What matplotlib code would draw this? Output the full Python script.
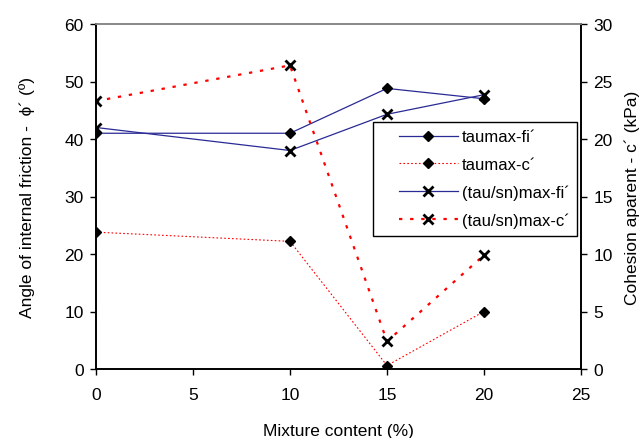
import matplotlib
matplotlib.use("Agg")
import matplotlib.pyplot as plt
from matplotlib.lines import Line2D
from matplotlib.legend_handler import HandlerLine2D

plt.rcParams["font.family"] = ["Liberation Sans", "DejaVu Sans"]

# data
mixture = [0, 10, 15, 20]
taumax_fi = [41.0, 41.0, 48.8, 47.0]
taumax_c = [11.9, 11.1, 0.3, 5.0]
tausn_fi = [42.0, 38.0, 44.3, 47.7]
tausn_c = [23.3, 26.4, 2.4, 9.9]

labels = ["taumax-fi´", "taumax-c´", "(tau/sn)max-fi´", "(tau/sn)max-c´"]


class PaddedLine(HandlerLine2D):
    # leave some blank room left of the legend line, like the reference
    def create_artists(self, legend, orig_handle, xdescent, ydescent, width, height,
                       fontsize, trans):
        pad = 13
        return super().create_artists(legend, orig_handle, xdescent - pad, ydescent,
                                      width - pad, height, fontsize, trans)


fig = plt.figure(figsize=(6.43, 4.39), dpi=100)
ax = fig.add_axes([96 / 643, 1 - 370 / 439, (581 - 96) / 643, (370 - 25) / 439])
ax2 = ax.twinx()

blue = "#2a2a95"
red = "#ff0000"
fs = 12.5

l1, = ax.plot(mixture, taumax_fi, color=blue, lw=0.9, marker="D", ms=5.5,
              mfc="black", mec="black", label=labels[0])
l3, = ax.plot(mixture, tausn_fi, color=blue, lw=0.9, marker="x", ms=7, mew=2,
              mec="black", label=labels[2])
l2, = ax2.plot(mixture, taumax_c, color=red, lw=0.8, ls=(0, (1.5, 2)), marker="D",
               ms=5.5, mfc="black", mec="black", label=labels[1])
l4, = ax2.plot(mixture, tausn_c, color=red, lw=1.6, ls=(0, (1.5, 3.5)), marker="x",
               ms=7, mew=2, mec="black", label=labels[3])

ax.set_xlim(0, 25)
ax.set_ylim(0, 60)
ax2.set_ylim(0, 30)
ax.set_xticks([0, 5, 10, 15, 20, 25])
ax.set_yticks(range(0, 61, 10))
ax2.set_yticks(range(0, 31, 5))

for a in (ax, ax2):
    a.tick_params(labelsize=fs, direction="out", length=4, width=1, pad=5)
    for s in a.spines.values():
        s.set_linewidth(1.2)
    a.spines["top"].set_color("#888888")
ax.tick_params(axis="x", pad=9)

ax.set_xlabel("Mixture content (%)", fontsize=fs, labelpad=15)
ax.set_ylabel("Angle of internal friction -  \u03d5´ (º)", fontsize=fs, labelpad=21)
ax2.set_ylabel("Cohesion aparent - c´ (kPa)", fontsize=fs, labelpad=8)

leg = ax2.legend(handles=[l1, l2, l3, l4], loc="upper left",
                 bbox_to_anchor=(373 / 643, 1 - 123 / 439), bbox_transform=fig.transFigure,
                 borderaxespad=0, fontsize=12, handlelength=4.67, handletextpad=0.2,
                 labelspacing=0.75, borderpad=0.45, fancybox=False, framealpha=1,
                 edgecolor="black", handler_map={Line2D: PaddedLine()})
leg.get_frame().set_linewidth(1.0)

fig.savefig("out.png", dpi=100)
